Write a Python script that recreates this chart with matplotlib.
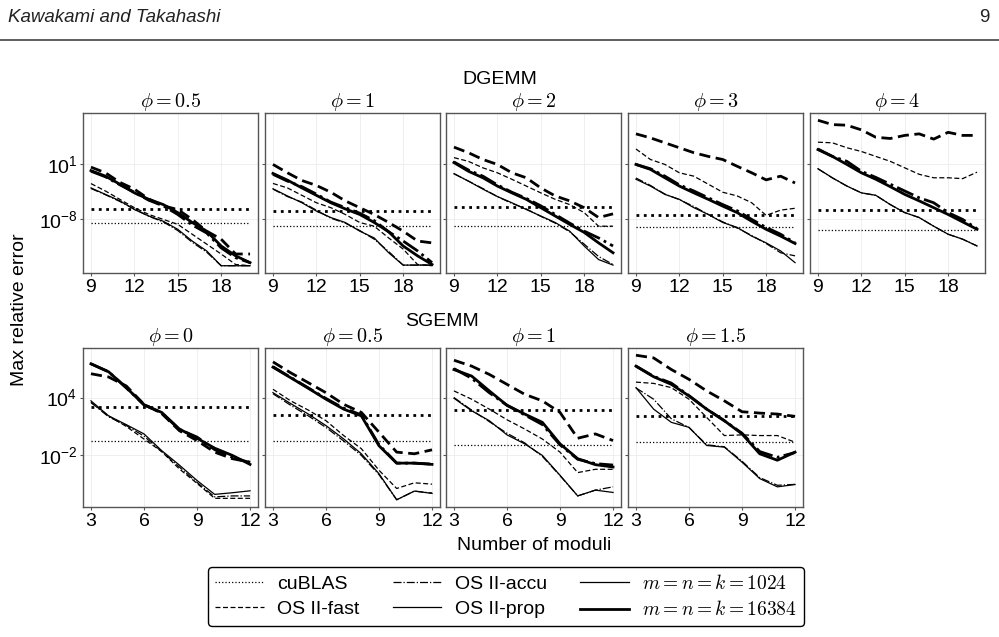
import numpy as np
import matplotlib
matplotlib.use("Agg")
import matplotlib.pyplot as plt
from matplotlib.lines import Line2D
from matplotlib.ticker import NullLocator

plt.rcParams['font.family'] = ['Liberation Sans', 'DejaVu Sans']
plt.rcParams['mathtext.fontset'] = 'cm'

W, H = 999, 637

# ---- data: log10(max relative error) ----
# DGEMM, number of moduli 9..20
dg_moduli = list(range(9, 21))
dg_phi = ['0.5', '1', '2', '3', '4']
dg_cublas_1024 = [-8.6, -9.07, -9.07, -9.3, -9.7]
dg_cublas_16384 = [-6.35, -6.7, -6.05, -7.35, -6.5]
dg_fast_1024 = [
    [-2.2, -3.4, -4.76, -6.1, -7.2, -8.0, -8.8, -10.4, -12.0, -13.6, -15.3, -15.5],
    [-2.18, -2.9, -4.1, -5.3, -6.1, -7.2, -8.5, -9.1, -11.0, -12.8, -15.3, -15.5],
    [2.0, 1.4, 0.35, -0.45, -1.5, -2.6, -3.7, -4.75, -5.6, -6.9, -9.1, -9.1],
    [3.4, 1.7, 0.9, -0.45, -1.0, -2.3, -3.6, -4.2, -5.3, -7.35, -6.5, -6.2],
    [4.5, 4.4, 3.6, 3.0, 2.2, 1.4, 0.35, -0.7, -1.26, -1.26, -1.4, -0.35],
]
dg_fast_16384 = [
    [0.46, -0.45, -2.0, -3.1, -4.7, -5.8, -6.4, -8.0, -9.9, -11.2, -13.6, -13.6],
    [0.9, -0.45, -1.7, -2.5, -3.6, -5.0, -6.1, -7.2, -8.5, -9.9, -11.5, -11.8],
    [3.7, 2.8, 1.7, 0.9, -0.45, -1.26, -2.9, -4.2, -5.0, -6.1, -7.7, -7.1],
    [5.85, 5.2, 4.4, 3.6, 2.8, 2.2, 1.7, 0.6, -0.45, -1.6, -1.0, -2.1],
    [8.05, 7.35, 7.25, 6.5, 5.3, 5.1, 5.6, 5.85, 5.0, 6.1, 5.6, 5.6],
]
dg_accu_1024 = [
    [-3.0, -4.0, -5.1, -6.3, -7.5, -8.4, -9.8, -11.7, -13.3, -15.5, -15.5, -15.5],
    [-3.1, -4.3, -5.2, -6.5, -7.8, -8.6, -9.8, -11.2, -13.2, -15.4, -15.4, -15.4],
    [-0.6, -1.8, -3.0, -4.3, -5.4, -6.3, -7.5, -8.6, -10.0, -12.0, -14.0, -15.3],
    [-1.3, -2.5, -3.9, -4.8, -5.9, -7.2, -8.4, -9.4, -10.6, -11.9, -13.4, -13.9],
    [0.2, -1.3, -2.6, -3.7, -4.1, -5.6, -6.9, -7.7, -9.1, -10.4, -11.2, -12.3],
]
dg_accu_16384 = [
    [-0.2, -1.1, -2.4, -3.6, -4.9, -5.8, -7.2, -8.9, -10.2, -12.6, -14.2, -15.0],
    [-0.7, -1.8, -2.7, -3.9, -5.2, -6.1, -7.0, -8.2, -10.0, -11.5, -13.1, -15.0],
    [1.3, 0.0, -1.0, -2.4, -3.6, -4.6, -5.8, -7.2, -8.6, -9.9, -11.0, -12.3],
    [0.9, 0.2, -1.0, -2.4, -3.4, -4.5, -5.6, -6.6, -8.0, -9.3, -10.4, -11.8],
    [3.4, 2.2, 1.4, -0.2, -1.2, -2.3, -3.4, -4.5, -5.3, -6.9, -8.0, -9.5],
]
dg_prop_1024 = [
    [-2.9, -3.95, -5.0, -6.4, -7.45, -8.3, -9.6, -11.5, -13.1, -15.5, -15.5, -15.5],
    [-3.04, -4.2, -5.3, -6.65, -7.7, -8.5, -9.9, -11.0, -13.4, -15.4, -15.4, -15.4],
    [-0.6, -1.8, -3.1, -4.3, -5.3, -6.4, -7.45, -8.5, -9.9, -12.3, -14.5, -15.4],
    [-1.5, -2.6, -3.95, -4.75, -6.1, -7.2, -8.5, -9.3, -10.7, -11.8, -13.1, -15.0],
    [0.2, -1.26, -2.6, -3.7, -4.1, -5.6, -6.9, -7.7, -9.1, -10.4, -11.2, -12.3],
]
dg_prop_16384 = [
    [-0.1, -1.0, -2.3, -3.7, -4.75, -5.6, -6.9, -8.5, -9.9, -12.3, -13.9, -15.0],
    [-0.56, -1.64, -2.9, -4.1, -5.3, -6.3, -7.2, -8.5, -10.0, -12.3, -13.9, -15.3],
    [1.2, -0.2, -1.26, -2.6, -3.7, -4.75, -6.1, -7.45, -8.8, -10.1, -11.8, -13.4],
    [0.9, 0.1, -1.26, -2.6, -3.7, -4.75, -5.85, -6.9, -8.3, -9.6, -10.7, -11.9],
    [3.3, 2.2, 0.9, -0.45, -1.5, -2.7, -3.95, -5.0, -6.1, -7.2, -8.4, -9.6],
]

# SGEMM, number of moduli 3..12
sg_moduli = list(range(3, 13))
sg_phi = ['0', '0.5', '1', '1.5']
sg_cublas_1024 = [-0.46, -0.46, -0.97, -0.56]
sg_cublas_16384 = [3.04, 2.2, 2.7, 2.11]
sg_fast_1024 = [
    [3.49, 2.1, 1.0, -0.3, -1.6, -3.4, -4.9, -6.45, -6.45, -6.45],
    [4.86, 3.66, 2.7, 1.6, 0.06, -1.3, -3.54, -5.43, -4.84, -4.98],
    [4.69, 3.83, 2.8, 1.7, 0.74, -0.3, -1.66, -3.78, -3.44, -3.44],
    [5.6, 5.47, 5.03, 3.83, 1.94, 0.06, 0.13, 0.06, 0.06, -0.63],
]
sg_fast_16384 = [
    [6.47, 6.13, 5.2, 3.3, 2.35, 0.57, -0.46, -1.66, -2.34, -2.7],
    [7.7, 6.57, 5.54, 4.5, 3.3, 2.46, 0.4, -1.66, -1.83, -1.42],
    [7.87, 7.26, 6.4, 5.37, 4.34, 3.66, 2.46, -0.22, 0.23, -0.46],
    [8.39, 8.11, 6.91, 5.89, 4.69, 3.66, 2.53, 2.39, 2.29, 2.05],
]
sg_accu_1024 = [
    [3.5, 2.0, 1.1, 0.0, -1.6, -3.2, -4.8, -6.3, -6.2, -6.2],
    [4.4, 3.2, 2.1, 0.9, -0.5, -2.0, -4.0, -6.6, -5.7, -5.9],
    [4.0, 2.7, 1.5, 0.3, -0.7, -2.1, -4.1, -6.2, -5.6, -5.26],
    [5.0, 3.83, 1.8, 0.9, -0.9, -1.1, -2.6, -4.3, -5.1, -5.0],
]
sg_accu_16384 = [
    [7.5, 6.67, 5.0, 3.25, 2.4, 0.7, -0.1, -1.4, -2.2, -2.75],
    [7.2, 6.1, 5.0, 3.9, 2.9, 2.2, -0.9, -2.8, -2.8, -2.9],
    [7.0, 6.0, 4.5, 3.2, 2.2, 1.2, -0.9, -2.4, -2.85, -3.0],
    [7.26, 6.2, 5.5, 4.2, 2.8, 1.6, 0.3, -1.6, -2.2, -1.7],
]
sg_prop_1024 = [
    [3.66, 2.1, 1.19, 0.23, -1.5, -3.0, -4.6, -6.04, -5.87, -5.67],
    [4.51, 3.38, 2.29, 1.09, -0.29, -1.83, -3.9, -6.6, -5.7, -5.94],
    [3.93, 2.63, 1.6, 0.13, -0.8, -2.0, -4.06, -6.2, -5.6, -5.84],
    [5.03, 2.8, 1.43, 0.91, -0.97, -1.14, -2.7, -4.4, -5.26, -5.02],
]
sg_prop_16384 = [
    [7.5, 6.67, 5.03, 3.25, 2.46, 0.74, -0.22, -1.25, -2.0, -2.93],
    [7.15, 6.06, 4.96, 3.83, 2.8, 2.1, -1.0, -2.8, -2.8, -2.93],
    [6.9, 6.23, 4.69, 3.2, 2.29, 1.43, -0.8, -2.34, -2.96, -3.2],
    [7.26, 6.16, 5.37, 4.17, 2.8, 1.6, 0.23, -1.83, -2.5, -1.66],
]

THIN, THICK = 0.9, 2.0
DASH = (0, (4, 2))
SPINE = '#555555'
FS = 14


def draw_panel(ax, x, i, cub_s, cub_l, fast_s, fast_l, accu_s, accu_l, prop_s, prop_l):
    x = np.array(x)
    for vals, ls in [(fast_s, DASH), (accu_s, '-.'), (prop_s, '-')]:
        ax.plot(x, 10.0 ** np.array(vals[i]), color='k', lw=THIN, ls=ls)
    for vals, ls in [(fast_l, DASH), (accu_l, '-.'), (prop_l, '-')]:
        ax.plot(x, 10.0 ** np.array(vals[i]), color='k', lw=THICK, ls=ls)
    ax.plot(x, np.full(len(x), 10.0 ** cub_s[i]), color='k', lw=THIN, ls=':')
    ax.plot(x, np.full(len(x), 10.0 ** cub_l[i]), color='k', lw=THICK, ls=':')
    ax.set_yscale('log')
    ax.grid(True, color='#ececec', lw=0.6)
    ax.set_axisbelow(True)
    for s in ax.spines.values():
        s.set_color(SPINE)
        s.set_linewidth(1.0)
    ax.tick_params(direction='out', length=2.5, width=0.8, color=SPINE,
                   labelsize=FS, pad=1.5)


fig = plt.figure(figsize=(W / 100, H / 100), dpi=100)

lefts = [83, 265, 446, 628, 810]
pw = 175

# DGEMM row
first = None
for i, phi in enumerate(dg_phi):
    ax = fig.add_axes([lefts[i] / W, 1 - 273 / H, pw / W, 160 / H], sharey=first)
    if first is None:
        first = ax
    draw_panel(ax, dg_moduli, i, dg_cublas_1024, dg_cublas_16384,
               dg_fast_1024, dg_fast_16384, dg_accu_1024, dg_accu_16384,
               dg_prop_1024, dg_prop_16384)
    ax.set_xticks([9, 12, 15, 18])
    ax.set_yticks([1e1, 1e-8])
    ax.yaxis.set_minor_locator(NullLocator())
    ax.set_title(r'$\phi = %s$' % phi, fontsize=14.5, pad=3)
    if i > 0:
        ax.tick_params(labelleft=False)

# SGEMM row
first = None
for i, phi in enumerate(sg_phi):
    ax = fig.add_axes([lefts[i] / W, 1 - 507 / H, pw / W, 159 / H], sharey=first)
    if first is None:
        first = ax
    draw_panel(ax, sg_moduli, i, sg_cublas_1024, sg_cublas_16384,
               sg_fast_1024, sg_fast_16384, sg_accu_1024, sg_accu_16384,
               sg_prop_1024, sg_prop_16384)
    ax.set_xticks([3, 6, 9, 12])
    ax.set_yticks([1e4, 1e-2])
    ax.yaxis.set_minor_locator(NullLocator())
    ax.set_title(r'$\phi = %s$' % phi, fontsize=14.5, pad=3)
    if i > 0:
        ax.tick_params(labelleft=False)

fig.text(499.5 / W, 1 - 80 / H, 'DGEMM', ha='center', va='center', fontsize=FS)
fig.text(442 / W, 1 - 321 / H, 'SGEMM', ha='center', va='center', fontsize=FS)
fig.text(534 / W, 1 - 546 / H, 'Number of moduli', ha='center', va='center', fontsize=FS)
fig.text(20 / W, 1 - 310 / H, 'Max relative error', ha='center', va='center',
         rotation=90, fontsize=FS)

# page header
fig.text(8 / W, 1 - 17 / H, 'Kawakami and Takahashi', ha='left', va='center',
         fontsize=13.5, style='italic', color='#222222')
fig.text(990 / W, 1 - 17 / H, '9', ha='right', va='center', fontsize=13.5, color='#222222')
fig.add_artist(Line2D([0, 1], [1 - 40 / H, 1 - 40 / H], transform=fig.transFigure,
                      color='#444444', lw=1.2))

handles = [
    Line2D([], [], color='k', lw=THIN, ls=':'),
    Line2D([], [], color='k', lw=THIN, ls=DASH),
    Line2D([], [], color='k', lw=THIN, ls='-.'),
    Line2D([], [], color='k', lw=THIN, ls='-'),
    Line2D([], [], color='k', lw=THIN, ls='-'),
    Line2D([], [], color='k', lw=THICK, ls='-'),
]
labels = ['cuBLAS', 'OS II-fast', 'OS II-accu', 'OS II-prop',
          r'$m = n = k = 1024$', r'$m = n = k = 16384$']
leg = fig.legend(handles, labels, ncol=3, loc='center',
                 bbox_to_anchor=(506 / W, 1 - 596.5 / H), fontsize=14,
                 frameon=True, fancybox=True, framealpha=1, edgecolor='black',
                 handlelength=2.5, handletextpad=0.7, columnspacing=1.7,
                 borderpad=0.35, labelspacing=0.4)
leg.get_frame().set_linewidth(1.0)

fig.savefig('out.png', dpi=100)
